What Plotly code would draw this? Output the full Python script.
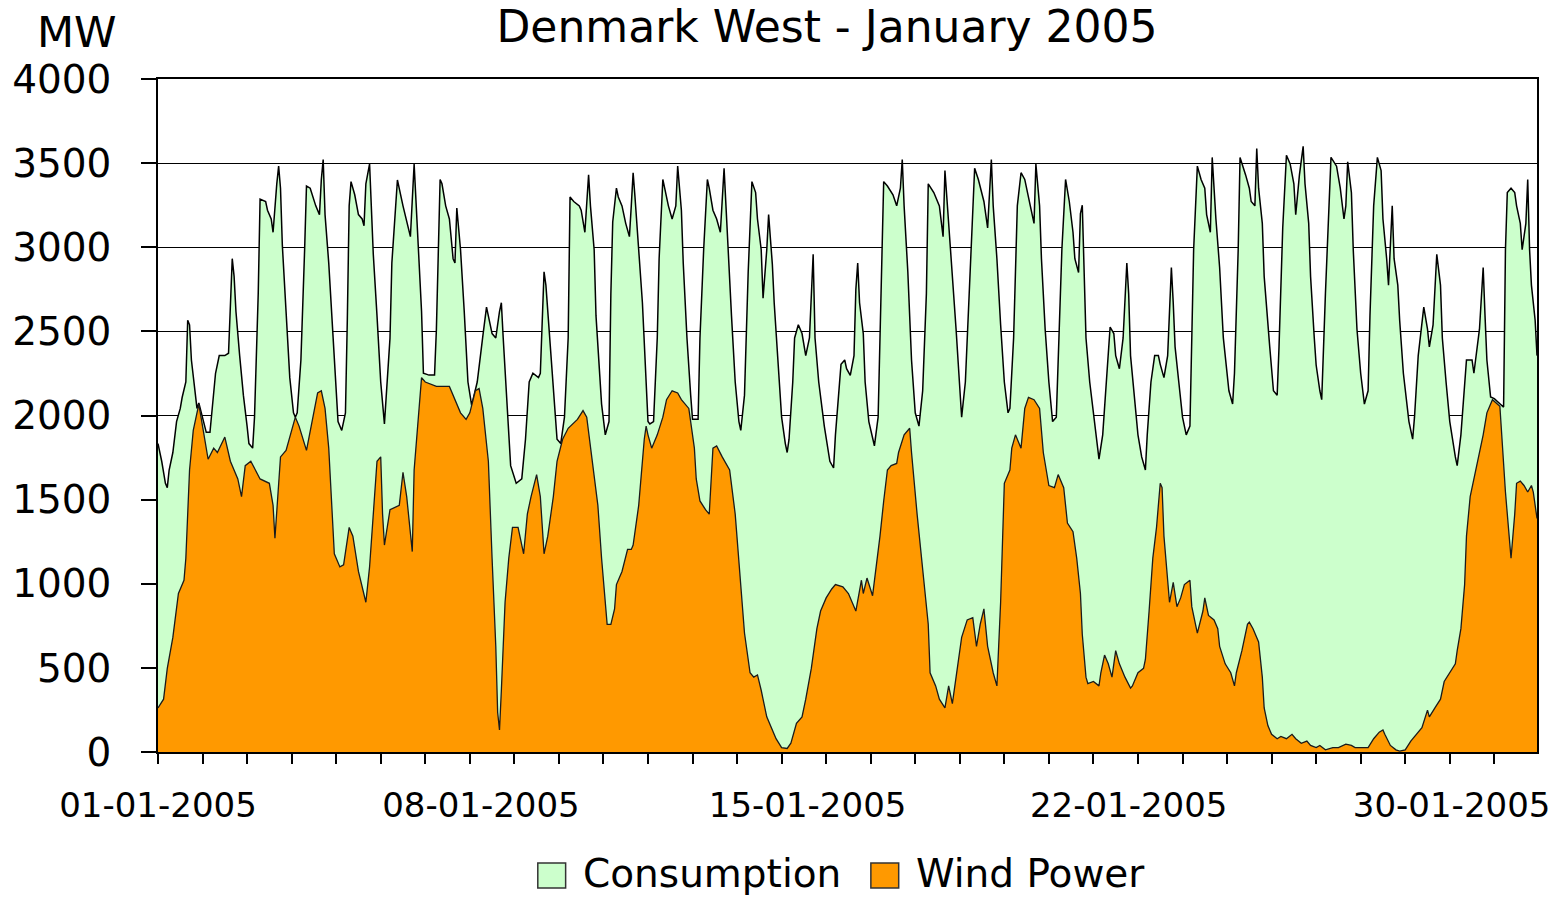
import plotly.graph_objects as go

# ---- Data (hour index from 01-01-2005 00:00, MW) ----
cons_hours = [
    0, 2, 4, 5, 6, 8, 10, 12, 13, 15, 16, 17, 18, 20, 21, 22, 24, 26, 28, 30, 31, 33, 36, 38, 39, 40, 41, 42, 44, 46,
    48, 49, 51, 52, 54, 55, 58, 59, 61, 62, 64, 65, 66, 67, 69, 71, 73, 74, 75, 77, 79, 80, 82, 84, 85, 87, 88, 89, 90, 92,
    94, 95, 97, 99, 101, 102, 103, 104, 106, 108, 110, 111, 112, 114, 115, 116, 118, 120, 122, 125, 126, 129, 132, 135, 136, 138, 140, 142, 143, 146,
    149, 150, 152, 153, 155, 157, 159, 160, 161, 163, 165, 167, 169, 172, 175, 176, 177, 180, 182, 184, 185, 186, 189, 190, 193, 196, 198, 200, 202, 205,
    206, 208, 209, 211, 213, 215, 217, 219, 221, 222, 224, 227, 228, 230, 232, 233, 235, 236, 239, 241, 243, 244, 245, 247, 248, 250, 252, 254, 255, 256,
    257, 259, 261, 263, 264, 265, 267, 269, 270, 272, 273, 275, 277, 279, 280, 282, 283, 285, 287, 288, 291, 292, 294, 296, 297, 299, 301, 303, 305, 306,
    307, 309, 311, 313, 314, 316, 318, 320, 322, 323, 325, 326, 328, 329, 331, 332, 334, 336, 338, 339, 340, 342, 343, 345, 347, 349, 351, 353, 354, 356,
    359, 362, 364, 365, 368, 370, 371, 373, 375, 376, 377, 378, 380, 381, 383, 385, 386, 388, 389, 390, 391, 393, 396, 398, 400, 401, 402, 404, 406, 408,
    410, 412, 414, 415, 418, 421, 423, 424, 426, 427, 430, 432, 433, 435, 437, 439, 440, 442, 445, 447, 448, 449, 450, 452, 454, 456, 458, 459, 461, 463,
    465, 467, 470, 472, 473, 475, 476, 478, 480, 482, 484, 485, 487, 489, 491, 493, 494, 496, 497, 498, 499, 500, 502, 504, 506, 507, 509, 511, 513, 515,
    516, 518, 520, 522, 523, 524, 526, 528, 530, 532, 533, 535, 537, 539, 540, 542, 544, 546, 547, 548, 550, 552, 554, 556, 557, 558, 560, 562, 564, 565,
    567, 568, 570, 572, 574, 577, 579, 580, 582, 583, 586, 588, 589, 591, 592, 593, 595, 596, 599, 601, 603, 604, 606, 608, 610, 612, 613, 615, 617, 618,
    620, 621, 623, 624, 626, 627, 629, 631, 632, 635, 637, 639, 640, 641, 643, 644, 646, 648, 650, 652, 653, 655, 657, 659, 660, 662, 663, 665, 666, 668,
    669, 671, 674, 676, 677, 679, 681, 682, 684, 685, 687, 688, 689, 691, 692, 694, 696, 699, 700, 702, 704, 705, 708, 709, 712, 714, 715, 716, 718, 720,
    723, 725, 726, 727, 729, 731, 732, 734, 735, 737, 738, 739, 740, 742, 743,
]
cons_mw = [
    1833, 1728, 1597, 1571, 1676, 1780, 1964, 2042, 2107, 2199, 2566, 2539, 2330, 2147, 2042, 2075, 1990, 1900, 1900, 2150, 2251, 2356, 2356, 2370, 2644, 2932, 2827, 2618, 2356, 2121,
    1937, 1833, 1806, 1990, 2723, 3286, 3272, 3220, 3168, 3089, 3377, 3482, 3351, 3011, 2618, 2225, 2016, 1990, 2016, 2330, 2985, 3364, 3351, 3272, 3246, 3194, 3403, 3521, 3194, 2906,
    2500, 2304, 1964, 1911, 2016, 2566, 3246, 3390, 3312, 3194, 3168, 3128, 3377, 3495, 3194, 2958, 2592, 2199, 1950, 2460, 2906, 3400, 3246, 3115, 3063, 3495, 3011, 2618, 2251, 2240,
    2240, 2513, 3403, 3377, 3246, 3168, 2932, 2906, 3233, 2985, 2618, 2199, 2060, 2199, 2470, 2566, 2644, 2487, 2461, 2618, 2670, 2461, 1937, 1702, 1597, 1623, 1859, 2199, 2251, 2225,
    2251, 2854, 2775, 2461, 2199, 1859, 1833, 1990, 2461, 3299, 3272, 3246, 3220, 3089, 3430, 3246, 2985, 2592, 2068, 1885, 1964, 2723, 3150, 3351, 3299, 3246, 3142, 3063, 3246, 3443,
    3299, 2985, 2670, 2199, 1964, 1950, 1964, 2461, 2932, 3403, 3351, 3246, 3168, 3246, 3482, 3220, 2906, 2461, 2121, 1977, 1977, 2461, 2985, 3403, 3351, 3220, 3168, 3089, 3469, 3246,
    2985, 2592, 2199, 1964, 1911, 2121, 2854, 3390, 3325, 3168, 2985, 2697, 2985, 3194, 2900, 2670, 2330, 1990, 1833, 1780, 1859, 2199, 2461, 2539, 2487, 2356, 2461, 2958, 2461, 2199,
    1937, 1728, 1688, 1885, 2304, 2330, 2278, 2238, 2356, 2749, 2906, 2670, 2487, 2199, 1964, 1859, 1820, 1990, 2461, 2985, 3390, 3364, 3312, 3246, 3351, 3521, 3246, 2854, 2330, 2016,
    1937, 2147, 2723, 3377, 3325, 3246, 3063, 3456, 3168, 2985, 2513, 2199, 1990, 2199, 2723, 3246, 3469, 3403, 3272, 3115, 3300, 3521, 3246, 2932, 2539, 2199, 2016, 2042, 2461, 3246,
    3443, 3403, 3246, 3142, 3495, 3246, 2932, 2513, 2199, 1964, 1990, 2330, 2985, 3403, 3272, 3089, 2932, 2850, 3200, 3250, 2854, 2461, 2199, 2016, 1833, 1741, 1885, 2199, 2526, 2487,
    2356, 2278, 2461, 2906, 2723, 2356, 2094, 1885, 1754, 1676, 1885, 2199, 2356, 2356, 2304, 2225, 2356, 2880, 2670, 2408, 2199, 1990, 1885, 1937, 2461, 2985, 3482, 3403, 3351, 3194,
    3089, 3534, 3168, 2880, 2461, 2147, 2068, 2251, 2985, 3534, 3430, 3351, 3272, 3246, 3587, 3351, 3142, 2827, 2408, 2147, 2121, 2408, 3115, 3547, 3495, 3377, 3194, 3430, 3600, 3377,
    3142, 2827, 2461, 2300, 2147, 2094, 2723, 3299, 3534, 3482, 3351, 3168, 3246, 3508, 3325, 2985, 2513, 2251, 2068, 2147, 2592, 3246, 3534, 3456, 3168, 2932, 2775, 3246, 2932, 2775,
    2566, 2251, 1964, 1859, 1990, 2356, 2566, 2644, 2513, 2408, 2539, 2775, 2958, 2775, 2461, 2199, 1964, 1754, 1702, 1885, 2199, 2330, 2330, 2251, 2513, 2880, 2592, 2330, 2110, 2100,
    2070, 2050, 2985, 3325, 3351, 3325, 3246, 3142, 2985, 3142, 3403, 2985, 2775, 2566, 2356,
]

wind_hours = [
    0, 3, 5, 8, 11, 14, 15, 17, 19, 22, 24, 27, 30, 32, 36, 39, 43, 45, 47, 50, 55, 60, 62, 63, 66, 69, 74, 76, 80, 83,
    86, 88, 90, 92, 93, 94, 95, 98, 100, 103, 105, 108, 112, 114, 116, 118, 120, 121, 122, 125, 130, 132, 134, 137, 138, 142, 144, 150, 157, 160,
    163, 166, 168, 171, 173, 175, 178, 180, 182, 183, 184, 185, 187, 189, 191, 194, 197, 199, 201, 204, 206, 208, 210, 213, 215, 218, 221, 226, 229, 231,
    234, 237, 239, 242, 244, 246, 247, 250, 253, 255, 256, 259, 262, 263, 264, 266, 269, 272, 274, 277, 280, 282, 286, 289, 290, 292, 295, 297, 299, 301,
    304, 308, 311, 314, 316, 319, 321, 323, 325, 328, 331, 333, 336, 339, 341, 344, 347, 349, 352, 355, 357, 360, 363, 365, 369, 372, 376, 379, 380, 382,
    385, 387, 389, 391, 393, 395, 398, 399, 402, 405, 406, 409, 412, 415, 416, 419, 421, 424, 426, 428, 431, 433, 436, 439, 441, 443, 445, 447, 450, 452,
    454, 456, 459, 460, 462, 465, 467, 469, 472, 475, 477, 480, 483, 485, 488, 490, 493, 495, 497, 498, 500, 501, 504, 507, 508, 510, 512, 514, 516, 518,
    521, 524, 525, 528, 531, 532, 534, 536, 538, 540, 541, 542, 544, 545, 547, 549, 551, 553, 556, 557, 560, 563, 564, 566, 569, 571, 572, 575, 578, 580,
    581, 584, 587, 588, 590, 593, 595, 596, 598, 600, 603, 605, 608, 611, 613, 616, 619, 621, 624, 626, 629, 633, 636, 640, 643, 645, 649, 652, 655, 658,
    660, 661, 664, 667, 669, 672, 675, 677, 681, 684, 685, 688, 691, 693, 696, 699, 700, 702, 704, 705, 707, 709, 711, 714, 716, 719, 723, 724, 726, 728,
    729, 731, 732, 734, 736, 738, 740, 741, 743,
]
wind_mw = [
    262, 314, 497, 681, 942, 1021, 1152, 1676, 1911, 2068, 1937, 1740, 1806, 1780, 1872, 1728, 1623, 1518, 1702, 1728, 1623, 1597, 1466, 1270, 1754, 1793, 1990, 1937, 1793, 1964,
    2134, 2147, 2042, 1806, 1600, 1450, 1178, 1100, 1113, 1335, 1283, 1073, 890, 1100, 1414, 1728, 1754, 1414, 1230, 1440, 1466, 1662, 1518, 1191, 1676, 2225, 2199, 2173, 2173, 2094,
    2016, 1977, 2016, 2147, 2160, 2042, 1728, 1152, 628, 236, 131, 367, 890, 1152, 1335, 1335, 1178, 1414, 1518, 1649, 1518, 1178, 1283, 1518, 1728, 1859, 1924, 1977, 2029, 1990,
    1728, 1466, 1152, 759, 759, 850, 995, 1073, 1204, 1204, 1230, 1466, 1859, 1937, 1885, 1806, 1885, 1990, 2094, 2147, 2134, 2094, 2042, 1806, 1623, 1492, 1440, 1414, 1806, 1819,
    1754, 1676, 1414, 1021, 707, 471, 445, 458, 367, 209, 131, 79, 26, 21, 52, 170, 209, 314, 497, 733, 838, 916, 969, 995, 982, 942, 838, 1021, 942, 1034,
    929, 1100, 1283, 1492, 1676, 1702, 1715, 1780, 1885, 1924, 1780, 1414, 1073, 759, 471, 393, 314, 262, 393, 288, 524, 681, 785, 798, 628, 759, 851, 628, 471, 393,
    890, 1597, 1676, 1806, 1885, 1806, 2042, 2108, 2094, 2042, 1780, 1584, 1571, 1649, 1571, 1361, 1309, 1152, 942, 700, 445, 406, 419, 393, 471, 576, 524, 445, 602, 524,
    445, 380, 393, 471, 497, 550, 838, 1152, 1335, 1597, 1571, 1283, 1021, 890, 1008, 864, 916, 995, 1021, 864, 707, 838, 916, 812, 785, 733, 628, 524, 471, 393,
    471, 602, 759, 772, 733, 654, 445, 262, 157, 105, 79, 92, 79, 105, 79, 52, 65, 39, 26, 39, 13, 26, 26, 47, 39, 26, 26, 26, 79, 118,
    131, 105, 39, 13, 5, 13, 65, 92, 144, 249, 209, 262, 314, 419, 471, 524, 602, 733, 995, 1283, 1518, 1623, 1728, 1885, 2016, 2094, 2055, 1885, 1545, 1283,
    1152, 1414, 1597, 1610, 1584, 1545, 1584, 1545, 1388,
]

x_tick_hours = [0, 174, 350, 523, 697]
x_tick_labels = ["01-01-2005", "08-01-2005", "15-01-2005", "22-01-2005", "30-01-2005"]
n_days = 31
day_ticks = [24 * d for d in range(n_days)]

series_names = ["Consumption", "Wind Power"]
series_colors = ["#CCFFCC", "#FF9900"]

FONT = "DejaVu Sans"

fig = go.Figure()
fig.add_trace(go.Scatter(
    x=cons_hours, y=cons_mw, name=series_names[0], mode="lines",
    line=dict(color="#000000", width=1.5), fill="tozeroy", fillcolor=series_colors[0],
    showlegend=False,
))
fig.add_trace(go.Scatter(
    x=wind_hours, y=wind_mw, name=series_names[1], mode="lines",
    line=dict(color="#1a1a1a", width=1.3), fill="tozeroy", fillcolor=series_colors[1],
    showlegend=False,
))

# plot area: x 153..1540, y 79..752 (pixels)
L, R, T, B = 153, 1540, 79, 752
W_, H_ = R - L, B - T

def px(xp):
    return (xp - L) / W_

def py(yp):
    return (B - yp) / H_

shapes = []
annotations = []
# manual legend (boxes + text)
legend_items = [
    (535, 563, 578, series_names[0], series_colors[0]),
    (870, 898, 913, series_names[1], series_colors[1]),
]
for x0, x1, xt, name, col in legend_items:
    shapes.append(dict(type="rect", xref="paper", yref="paper",
                       x0=px(x0), x1=px(x1), y0=py(863), y1=py(888),
                       fillcolor=col, line=dict(color="#333333", width=1.5)))
    annotations.append(dict(text=name, xref="paper", yref="paper", x=px(xt), y=py(873),
                            xanchor="left", yanchor="middle", showarrow=False,
                            font=dict(family=FONT, size=39, color="black")))

annotations.append(dict(text="MW", xref="paper", yref="paper", x=px(72), y=py(32),
                        xanchor="center", yanchor="middle", showarrow=False,
                        font=dict(family=FONT, size=43, color="black")))

fig.update_layout(
    width=1562, height=897,
    margin=dict(l=L, r=1562 - R, t=T, b=897 - B),
    paper_bgcolor="white", plot_bgcolor="white",
    title=dict(text="Denmark West - January 2005", x=827 / 1562, y=1 - 27 / 897,
               xref="container", yref="container", xanchor="center", yanchor="middle",
               font=dict(family=FONT, size=44, color="black")),
    font=dict(family=FONT, color="black"),
    shapes=shapes, annotations=annotations,
    showlegend=False,
)
fig.update_xaxes(
    range=[0, 743], showgrid=False, zeroline=False,
    showline=True, linecolor="black", linewidth=1.5, mirror=True,
    tickmode="array", tickvals=x_tick_hours, ticktext=x_tick_labels,
    ticks="outside", ticklen=10, tickcolor="rgba(0,0,0,0)",
    tickfont=dict(family=FONT, size=34, color="black"),
    ticklabelstandoff=12,
    minor=dict(tickmode="array", tickvals=day_ticks, ticks="outside", ticklen=10,
               tickcolor="black", tickwidth=1.5, showgrid=False),
)
fig.update_yaxes(
    range=[0, 4000], dtick=500, tick0=0,
    showgrid=True, gridcolor="black", gridwidth=1,
    zeroline=False, showline=True, linecolor="black", linewidth=1.5, mirror=True,
    ticks="outside", ticklen=15, tickcolor="black", tickwidth=1.5,
    tickfont=dict(family=FONT, size=39, color="black"),
    ticklabelstandoff=22,
)

fig.write_html("out.html", config={"displayModeBar": False},
               post_script="document.body.style.margin='0px';")
